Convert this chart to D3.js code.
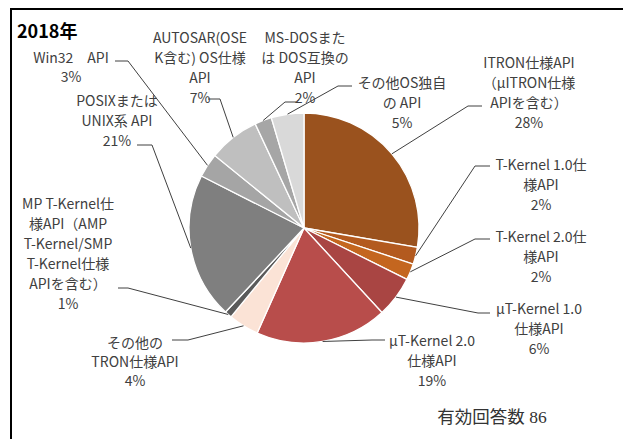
<!DOCTYPE html>
<html><head><meta charset="utf-8">
<script src="https://cdn.jsdelivr.net/npm/d3@7"></script>
<style>
html,body{margin:0;padding:0;background:#fff;}
svg{display:block;}
</style></head>
<body>
<svg id="chart" width="623" height="439"></svg>
<script>
// ---- data ----
const title = "2018年";
const note = "有効回答数 86";
const categories = [
  "ITRON仕様API\n（µITRON仕様\nAPIを含む）",
  "T-Kernel 1.0仕\n様API",
  "T-Kernel 2.0仕\n様API",
  "µT-Kernel 1.0\n仕様API",
  "µT-Kernel 2.0\n仕様API",
  "その他の\nTRON仕様API",
  "MP T-Kernel仕\n様API（AMP\nT-Kernel/SMP\nT-Kernel仕様\nAPIを含む）",
  "POSIXまたは\nUNIX系 API",
  "Win32　API",
  "AUTOSAR(OSE\nK含む) OS仕様\nAPI",
  "MS-DOSまた\nは DOS互換の\nAPI",
  "その他OS独自\nの API"
];
const values = [27.8, 2.4, 2.3, 5.8, 18.6, 4.3, 1.0, 20.6, 3.4, 7.2, 2.4, 4.6];
const colors = ["#9A521E","#B35A1F","#C4661F","#A94543","#B84D4B","#FBE3D6",
                "#5A5A5A","#7F7F7F","#A5A5A5","#BFBFBF","#A6A6A6","#D9D9D9"];

// ---- layout (label placement, not data) ----
const layout = [
  {cx:529, y0:62,  dy:20, tx:482, ty:106, ex:468, ey:106},
  {cx:541, y0:164, dy:20, tx:490, ty:166, ex:475, ey:166},
  {cx:541, y0:236, dy:20, tx:490, ty:239, ex:475, ey:239},
  {cx:539, y0:308, dy:20, tx:490, ty:313, ex:478, ey:313},
  {cx:432, y0:340, dy:20, tx:385, ty:340, ex:372, ey:340},
  {cx:135, y0:342, dy:19, tx:172, ty:340, ex:188, ey:340},
  {cx:68,  y0:203, dy:20, tx:118, ty:288, ex:128, ey:288},
  {cx:117, y0:100, dy:20, tx:137, ty:145, ex:152, ey:145},
  {cx:71,  y0:57,  dy:19, tx:115, ty:61,  ex:128, ey:61},
  {cx:200, y0:37,  dy:20, tx:208, ty:99,  ex:220, ey:99},
  {cx:305, y0:37,  dy:20, tx:296, ty:102, ex:285, ey:102},
  {cx:402, y0:82,  dy:20, tx:352, ty:86,  ex:338, ey:86}
];

const svg = d3.select("#chart");
const cx = 304, cy = 228, R = 115;

// frame
svg.append("line").attr("x1",10).attr("x2",623).attr("y1",9).attr("y2",9)
  .attr("stroke","#000").attr("stroke-width",2);
svg.append("line").attr("x1",11).attr("x2",11).attr("y1",8).attr("y2",439)
  .attr("stroke","#000").attr("stroke-width",2);

const total = d3.sum(values);
const pie = d3.pie().sort(null).value(d=>d);
const arcs = pie(values);
const arc = d3.arc().innerRadius(0).outerRadius(R);

const g = svg.append("g").attr("transform",`translate(${cx},${cy})`);
g.selectAll("path").data(arcs).join("path")
  .attr("d",arc)
  .attr("fill",(d,i)=>colors[i])
  .attr("stroke","#fff").attr("stroke-width",1.3);

// leader lines + labels
const fmt = d3.format(".0%");
arcs.forEach((a,i)=>{
  const L = layout[i];
  const m = (a.startAngle + a.endAngle)/2;
  const px = cx + R*Math.sin(m), py = cy - R*Math.cos(m);
  svg.append("polyline")
    .attr("points",`${px},${py} ${L.ex},${L.ey} ${L.tx},${L.ty}`)
    .attr("fill","none").attr("stroke","#404040").attr("stroke-width",1);
  const lines = categories[i].split("\n").concat([fmt(values[i]/total)]);
  const t = svg.append("text")
    .attr("text-anchor","middle")
    .attr("font-family","'Noto Sans CJK JP', 'Noto Sans', sans-serif")
    .attr("font-size",14)
    .attr("fill","#404040");
  lines.forEach((s,k)=>{
    t.append("tspan").attr("x",L.cx).attr("y",L.y0 + k*L.dy)
      .attr("dominant-baseline","central").text(s);
  });
});

// title
svg.append("text").attr("x",17).attr("y",30)
  .attr("dominant-baseline","central")
  .attr("font-family","'Noto Sans CJK JP', sans-serif")
  .attr("font-weight","bold").attr("font-size",18).attr("fill","#000")
  .text(title);

// note
svg.append("text").attr("x",492).attr("y",417)
  .attr("text-anchor","middle").attr("dominant-baseline","central")
  .attr("font-family","'Liberation Serif', 'Noto Sans CJK JP', serif")
  .attr("font-size",17.5).attr("fill","#333")
  .text(note);
</script>
</body></html>
